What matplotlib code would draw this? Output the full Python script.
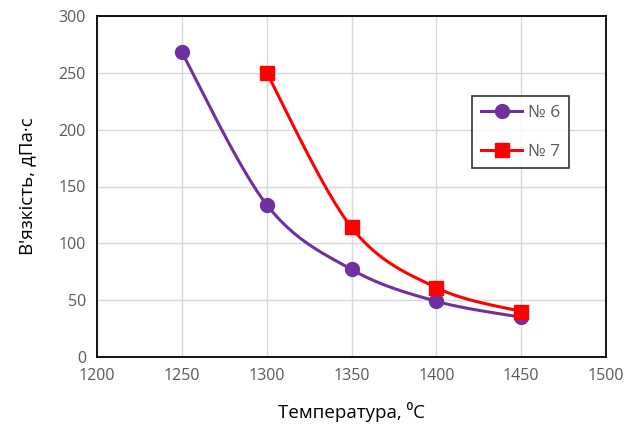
import numpy as np
import matplotlib
matplotlib.use("Agg")
import matplotlib.pyplot as plt
from matplotlib.lines import Line2D

plt.rcParams["font.family"] = ["Open Sans", "DejaVu Sans"]

temp6 = [1250, 1300, 1350, 1400, 1450]
visc6 = [268, 134, 77, 49, 35]
temp7 = [1300, 1350, 1400, 1450]
visc7 = [250, 114, 61, 40]
x_ticks = [1200, 1250, 1300, 1350, 1400, 1450, 1500]
y_ticks = [0, 50, 100, 150, 200, 250, 300]


def smooth(xs, ys, n=40):
    # Catmull-Rom через кубічні Безьє (як згладжування в Excel)
    xs = np.asarray(xs, float)
    ys = np.asarray(ys, float)
    px = np.concatenate([[xs[0]], xs, [xs[-1]]])
    py = np.concatenate([[ys[0]], ys, [ys[-1]]])
    ox, oy = [], []
    t = np.linspace(0, 1, n)
    for i in range(1, len(px) - 2):
        p0 = np.array([px[i], py[i]])
        p3 = np.array([px[i + 1], py[i + 1]])
        c1 = p0 + (np.array([px[i + 1], py[i + 1]]) - np.array([px[i - 1], py[i - 1]])) / 6
        c2 = p3 - (np.array([px[i + 2], py[i + 2]]) - np.array([px[i], py[i]])) / 6
        b = ((1 - t) ** 3)[:, None] * p0 + (3 * (1 - t) ** 2 * t)[:, None] * c1 \
            + (3 * (1 - t) * t ** 2)[:, None] * c2 + (t ** 3)[:, None] * p3
        ox.extend(b[:, 0])
        oy.extend(b[:, 1])
    return ox, oy


fig = plt.figure(figsize=(6.24, 4.28), dpi=100)
ax = fig.add_axes([97 / 624, 1 - 357 / 428, 509 / 624, 341 / 428])

c6 = "#7030A0"
c7 = "#FF0000"
sx, sy = smooth(temp6, visc6)
ax.plot(sx, sy, color=c6, lw=2.2, zorder=3)
ax.plot(temp6, visc6, "o", color=c6, ms=10, zorder=4)
sx, sy = smooth(temp7, visc7)
ax.plot(sx, sy, color=c7, lw=2.2, zorder=3)
ax.plot(temp7, visc7, "s", color=c7, ms=10, zorder=4)

ax.set_xlim(1200, 1500)
ax.set_ylim(0, 300)
ax.set_xticks(x_ticks)
ax.set_yticks(y_ticks)
ax.grid(True, color="#D9D9D9", lw=1)
ax.set_axisbelow(True)
for s in ax.spines.values():
    s.set_color("black")
    s.set_linewidth(1.3)
ax.tick_params(length=0, labelsize=11.5, colors="#595959", pad=8)

ax.set_xlabel("Температура, ⁰C", fontsize=13.5, color="black", labelpad=13)
ax.set_ylabel("В'язкість, дПа·с", fontsize=13.5, color="black", labelpad=16)

handles = [
    Line2D([], [], color=c6, lw=2.2, marker="o", ms=10),
    Line2D([], [], color=c7, lw=2.2, marker="s", ms=10),
]
leg = ax.legend(handles, ["№ 6", "№ 7"], loc="upper left",
                bbox_to_anchor=(0.737, 0.765), borderaxespad=0,
                fontsize=12.5, frameon=True, fancybox=False,
                edgecolor="black", handlelength=2.4, handletextpad=0.3,
                labelspacing=1.3, borderpad=0.5)
leg.get_frame().set_linewidth(1.2)
for t in leg.get_texts():
    t.set_color("#595959")

fig.savefig("out.png", dpi=100)
